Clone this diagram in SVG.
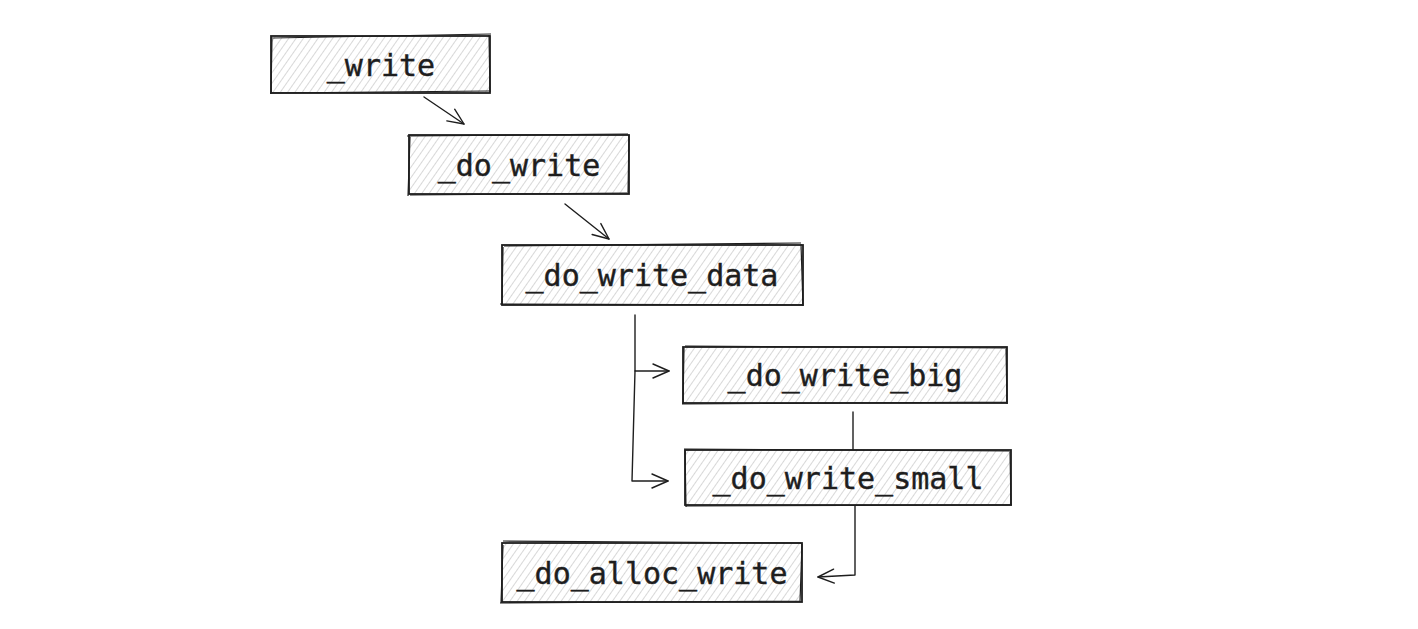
<svg xmlns="http://www.w3.org/2000/svg" width="1418" height="629" viewBox="0 0 1418 629">
<style>
.box{fill:url(#hatch);stroke:#1e1e1e;stroke-width:1.8}
.sk{fill:none;stroke:#1e1e1e;stroke-width:1.2}
.lbl{font-family:"DejaVu Sans Mono","Liberation Mono",monospace;font-size:30px;fill:#1e1e1e;stroke:#1e1e1e;stroke-width:0.4;text-anchor:middle;dominant-baseline:central}
.con{fill:none;stroke:#1e1e1e;stroke-width:1.4;stroke-linecap:round;stroke-linejoin:round}
</style>
<defs>
<pattern id="hatch" patternUnits="userSpaceOnUse" width="6" height="6" patternTransform="rotate(35)">
<rect width="6" height="6" fill="#ffffff"/>
<line x1="0" y1="0" x2="0" y2="6" stroke="#c4c4c4" stroke-width="1.3"/>
</pattern>
<marker id="arr" markerWidth="20" markerHeight="20" refX="18" refY="10" orient="auto" markerUnits="userSpaceOnUse">
<path d="M2,3 L18,10 L2,17" fill="none" stroke="#1e1e1e" stroke-width="1.4" stroke-linecap="round" stroke-linejoin="round"/>
</marker>
</defs>
<rect width="1418" height="629" fill="#ffffff"/>
<g id="connectors">
<path class="con" d="M424,97 L464,124" marker-end="url(#arr)"/>
<path class="con" d="M565,204 L609,239" marker-end="url(#arr)"/>
<path class="con" d="M635,315 L635,371 L669,371" marker-end="url(#arr)"/>
<path class="con" d="M635,371 L632,481 L668,481" marker-end="url(#arr)"/>
<path class="con" d="M853,412 L853,450"/>
<path class="con" d="M855,505 L855,575 L818,577" marker-end="url(#arr)"/>
</g>
<g id="n_write">
<rect class="box" x="271" y="36" width="219" height="57"/>
<path class="sk" d="M273,38 L491,34 M489,35 L490,92 M270,93 L489,91 M272,37 L271,94"/>
<text class="lbl" x="381" y="65">_write</text>
</g>
<g id="n_do_write">
<rect class="box" x="409" y="135" width="220" height="59"/>
<path class="sk" d="M407,136 L628,134 M629,135 L628,194 M410,195 L627,193 M410,137 L408,196"/>
<text class="lbl" x="519" y="165">_do_write</text>
</g>
<g id="n_do_write_data">
<rect class="box" x="502" y="245" width="301" height="60"/>
<path class="sk" d="M504,246 L801,243 M801,244 L803,306 M500,304 L803,305 M503,247 L502,305"/>
<text class="lbl" x="652" y="275">_do_write_data</text>
</g>
<g id="n_do_write_big">
<rect class="box" x="683" y="347" width="324" height="56"/>
<path class="sk" d="M685,346 L1005,348 M1006,347 L1007,404 M682,404 L1007,402 M684,348 L683,404"/>
<text class="lbl" x="845" y="375">_do_write_big</text>
</g>
<g id="n_do_write_small">
<rect class="box" x="685" y="450" width="326" height="55"/>
<path class="sk" d="M684,449 L1009,451 M1010,451 L1011,505 M686,506 L1012,505 M685,450 L686,507"/>
<text class="lbl" x="848" y="478">_do_write_small</text>
</g>
<g id="n_do_alloc_write">
<rect class="box" x="502" y="543" width="300" height="59"/>
<path class="sk" d="M503,541 L801,543 M802,544 L800,602 M500,603 L800,601 M503,545 L501,603"/>
<text class="lbl" x="652" y="573">_do_alloc_write</text>
</g>
</svg>
